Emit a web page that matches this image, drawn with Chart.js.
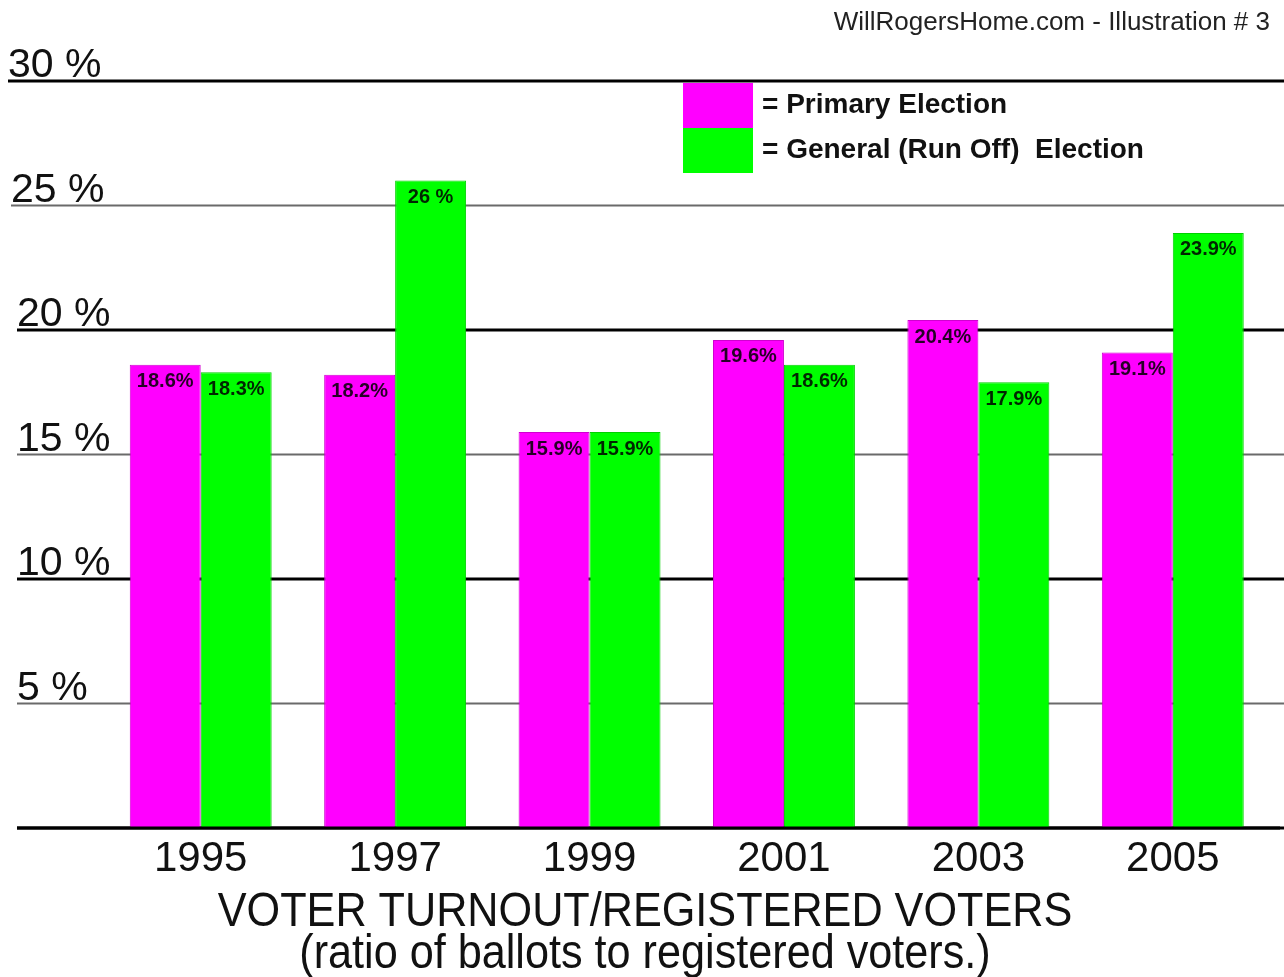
<!DOCTYPE html>
<html><head><meta charset="utf-8">
<script src="https://cdn.jsdelivr.net/npm/chart.js@4.4.0/dist/chart.umd.min.js"></script>
<style>html,body{margin:0;padding:0;background:#fff;} canvas{display:block;}</style>
</head><body>
<canvas id="c" width="1284" height="977"></canvas>
<script>
const categories = ['1995', '1997', '1999', '2001', '2003', '2005'];
const primaryValues = [18.6, 18.2, 15.9, 19.6, 20.4, 19.1];
const generalValues = [18.3, 26, 15.9, 18.6, 17.9, 23.9];
const seriesNames = ['Primary Election', 'General (Run Off)  Election'];
const seriesColors = ['#ff00ff', '#00ff00'];
const yTickValues = [0, 5, 10, 15, 20, 25, 30];
const yTickLabels = ['', '5 %', '10 %', '15 %', '20 %', '25 %', '30 %'];
const chartTitle = 'WillRogersHome.com - Illustration # 3';
const axisTitleLines = ['VOTER TURNOUT/REGISTERED VOTERS', '(ratio of ballots to registered voters.)'];

const FONT = '"Liberation Sans", Arial, Helvetica, sans-serif';

function fmt(v) { return Number.isInteger(v) ? v + ' %' : v.toFixed(1) + '%'; }

const gridPlugin = {
  id: 'gridPlugin',
  beforeDatasetsDraw(chart) {
    const ctx = chart.ctx, y = chart.scales.y;
    yTickValues.forEach((v, i) => {
      const py = y.getPixelForValue(v);
      const major = v % 10 === 0;
      const x0 = v === 30 ? 8 : (v === 25 ? 11 : 17);
      ctx.save();
      ctx.strokeStyle = major ? '#000' : '#6a6a6a';
      ctx.lineWidth = major ? 3 : 2;
      ctx.beginPath(); ctx.moveTo(x0, py); ctx.lineTo(chart.width, py); ctx.stroke();
      if (yTickLabels[i]) {
        ctx.fillStyle = '#111';
        ctx.font = '41px ' + FONT;
        ctx.textAlign = 'left';
        ctx.textBaseline = 'alphabetic';
        ctx.fillText(yTickLabels[i], x0, py - 4);
      }
      ctx.restore();
    });
  },
  afterDatasetsDraw(chart) {
    const ctx = chart.ctx, y = chart.scales.y;
    const py = y.getPixelForValue(0);
    ctx.save();
    ctx.strokeStyle = '#000'; ctx.lineWidth = 3;
    ctx.beginPath(); ctx.moveTo(17, py); ctx.lineTo(1280, py); ctx.stroke();
    ctx.font = 'bold 20px ' + FONT;
    ctx.textAlign = 'center';
    ctx.textBaseline = 'middle';
    ctx.fillStyle = 'rgba(0,0,0,0.85)';
    chart.data.datasets.forEach((ds, di) => {
      const meta = chart.getDatasetMeta(di);
      meta.data.forEach((bar, i) => {
        ctx.fillText(fmt(ds.data[i]), bar.x, bar.y + 17);
      });
    });
    ctx.restore();
  },
  afterDraw(chart) {
    const ctx = chart.ctx;
    ctx.save();
    chart.data.datasets.forEach((ds, di) => {
      const top = 83 + di * 45;
      ctx.fillStyle = ds.backgroundColor;
      ctx.fillRect(683, top, 70, 45);
      ctx.fillStyle = '#111';
      ctx.font = 'bold 28px ' + FONT;
      ctx.textAlign = 'left';
      ctx.textBaseline = 'middle';
      ctx.fillText('= ' + ds.label, 762, top + 22);
    });
    ctx.fillStyle = '#111';
    ctx.font = '48px ' + FONT;
    ctx.textAlign = 'center';
    ctx.textBaseline = 'alphabetic';
    const baselines = [926, 968];
    axisTitleLines.forEach((t, i) => {
      ctx.save();
      ctx.translate(645, baselines[i]);
      ctx.scale(0.9, 1);
      ctx.fillText(t, 0, 0);
      ctx.restore();
    });
    ctx.restore();
  }
};

new Chart(document.getElementById('c'), {
  type: 'bar',
  data: {
    labels: categories,
    datasets: [
      { label: seriesNames[0], data: primaryValues, backgroundColor: seriesColors[0], borderColor: '#d000d0', borderWidth: 1 },
      { label: seriesNames[1], data: generalValues, backgroundColor: seriesColors[1], borderColor: '#00d000', borderWidth: 1 }
    ]
  },
  options: {
    responsive: false,
    animation: false,
    devicePixelRatio: 1,
    datasets: { bar: { categoryPercentage: 0.73, barPercentage: 1.0 } },
    layout: { padding: { left: 103.5, right: 14, top: 0, bottom: 86.6 } },
    scales: {
      x: {
        grid: { display: false, drawTicks: false },
        border: { display: false },
        ticks: { font: { size: 42, family: FONT }, color: '#111', padding: 6 }
      },
      y: { display: false, min: 0, max: 30 }
    },
    plugins: {
      legend: { display: false },
      tooltip: { enabled: false },
      title: {
        display: true, text: chartTitle, align: 'end', color: '#222',
        font: { size: 26, family: FONT, weight: 'normal' },
        padding: { top: 7, bottom: 42.8 }
      }
    }
  },
  plugins: [gridPlugin]
});
</script>
</body></html>
